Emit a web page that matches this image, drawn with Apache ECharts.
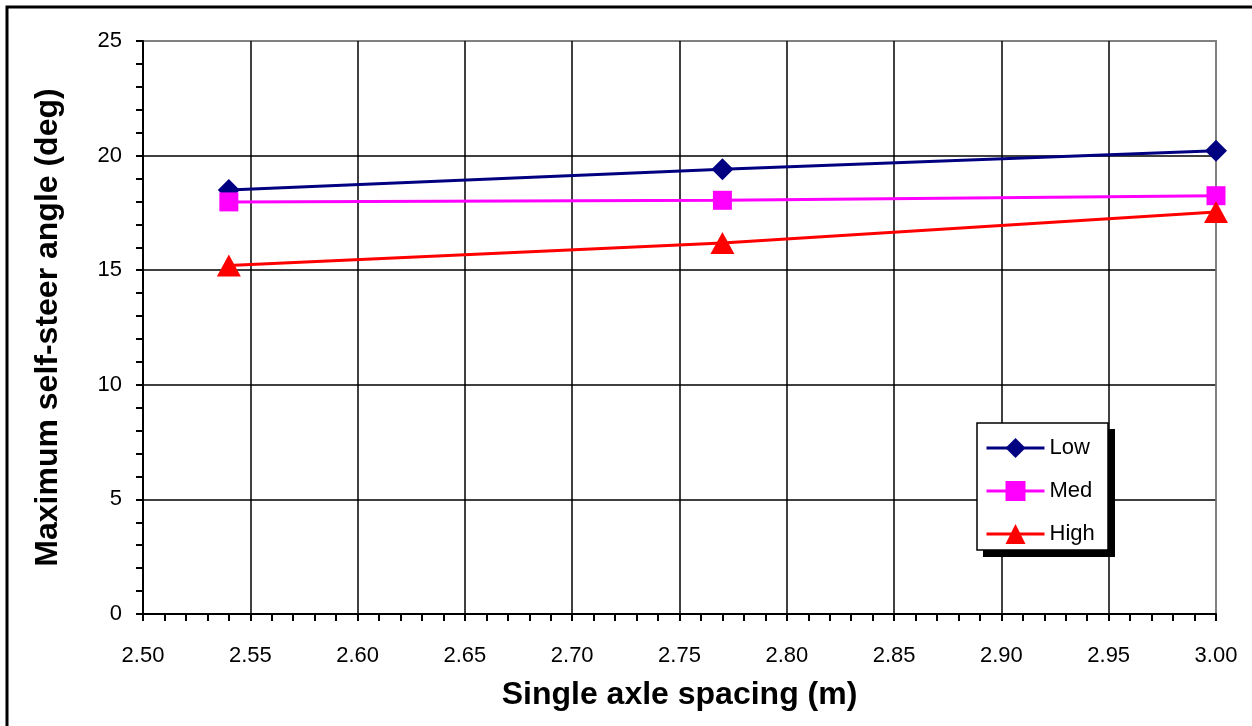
<!DOCTYPE html>
<html>
<head>
<meta charset="utf-8">
<script src="https://cdn.jsdelivr.net/npm/echarts@6/dist/echarts.min.js"></script>
<style>
html,body{margin:0;padding:0;background:#fff;}
#chart{width:1252px;height:726px;}
</style>
</head>
<body>
<div id="chart"></div>
<script>
var spacing = [2.54, 2.77, 3.00];
var lowVals = [18.50, 19.40, 20.21];
var medVals = [17.98, 18.05, 18.25];
var highVals = [15.20, 16.19, 17.54];
var seriesNames = ['Low', 'Med', 'High'];
var xTitle = 'Single axle spacing (m)';
var yTitle = 'Maximum self-steer angle (deg)';

function pairs(xs, ys) { return xs.map(function (x, i) { return [x, ys[i]]; }); }

var font = '"Liberation Sans", Arial, sans-serif';
var chart = echarts.init(document.getElementById('chart'));
var yGrid = ['#000', '#000', '#000', '#000', '#000', '#808080'];
var xGrid = ['#000','#000','#000','#000','#000','#000','#000','#000','#000','#000','#808080'];

chart.setOption({
  animation: false,
  backgroundColor: '#fff',
  textStyle: { fontFamily: font },
  grid: { left: 143, right: 36, top: 41, bottom: 112, show: true, borderColor: '#808080', borderWidth: 2,
    containLabel: false, outerBoundsMode: 'none' },
  graphic: [
    { type: 'rect', z: 100, silent: true,
      shape: { x: 7, y: 7, width: 1262, height: 740 },
      style: { fill: 'none', stroke: '#000', lineWidth: 3 } },
    { type: 'rect', z: 1, silent: true,
      shape: { x: 983, y: 429, width: 132, height: 128 },
      style: { fill: '#000', stroke: null } },
    { type: 'rect', z: 2, silent: true,
      shape: { x: 977, y: 423, width: 131, height: 127 },
      style: { fill: '#fff', stroke: '#000', lineWidth: 1.5 } }
  ],
  xAxis: {
    type: 'value', min: 2.5, max: 3.0, interval: 0.05,
    name: xTitle, nameLocation: 'middle', nameGap: 65,
    nameTextStyle: { fontSize: 32, fontWeight: 'bold', color: '#000', fontFamily: font },
    axisLine: { lineStyle: { color: '#000', width: 2 } },
    axisTick: { show: true, length: 7, inside: false, lineStyle: { color: '#000', width: 2 } },
    minorTick: { show: true, splitNumber: 5, length: 7, lineStyle: { color: '#000', width: 2 } },
    splitLine: { show: true, lineStyle: { color: xGrid, width: 1.5 } },
    axisLabel: { fontSize: 22, color: '#000', margin: 31, fontFamily: font,
      formatter: function (v) { return v.toFixed(2); } }
  },
  yAxis: {
    type: 'value', min: 0, max: 25, interval: 5,
    name: yTitle, nameLocation: 'middle', nameGap: 79,
    nameTextStyle: { fontSize: 32, fontWeight: 'bold', color: '#000', fontFamily: font },
    axisLine: { show: true, lineStyle: { color: '#000', width: 2 } },
    axisTick: { show: true, length: 7, inside: false, lineStyle: { color: '#000', width: 2 } },
    minorTick: { show: true, splitNumber: 5, length: 7, lineStyle: { color: '#000', width: 2 } },
    splitLine: { show: true, lineStyle: { color: yGrid, width: 1.5 } },
    axisLabel: { fontSize: 22, color: '#000', margin: 21, fontFamily: font }
  },
  legend: {
    left: 977, top: 423, orient: 'vertical', z: 10,
    padding: [14, 10, 10, 8], itemGap: 21, itemWidth: 58, itemHeight: 25,
    lineStyle: { width: 3 },
    textStyle: { fontSize: 22, color: '#000', fontFamily: font },
    data: seriesNames
  },
  series: [
    { name: seriesNames[0], type: 'line', data: pairs(spacing, lowVals),
      symbol: 'diamond', symbolSize: [22, 22], color: '#000080',
      lineStyle: { width: 3, color: '#000080' }, itemStyle: { color: '#000080' }, z: 3 },
    { name: seriesNames[1], type: 'line', data: pairs(spacing, medVals),
      symbol: 'rect', symbolSize: 19, color: '#FF00FF',
      lineStyle: { width: 3, color: '#FF00FF' }, itemStyle: { color: '#FF00FF' }, z: 4 },
    { name: seriesNames[2], type: 'line', data: pairs(spacing, highVals),
      symbol: 'triangle', symbolSize: [24, 22], color: '#FF0000',
      lineStyle: { width: 3, color: '#FF0000' }, itemStyle: { color: '#FF0000' }, z: 5 }
  ]
});
</script>
</body>
</html>
